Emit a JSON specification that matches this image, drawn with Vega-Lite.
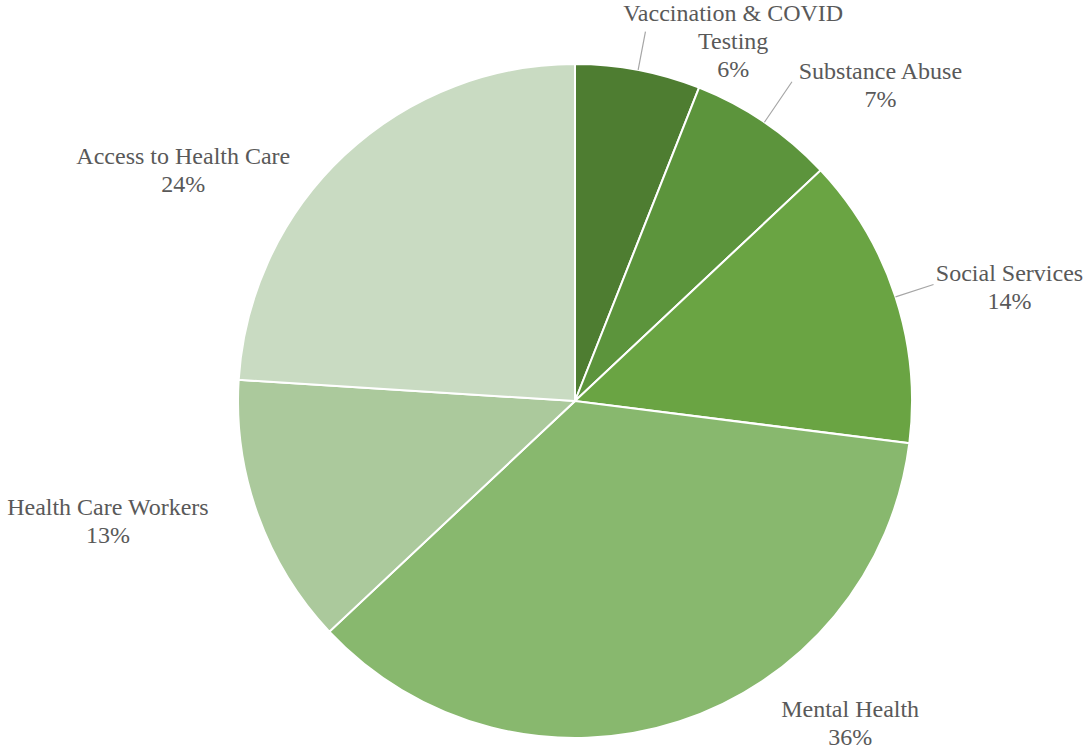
{
  "$schema": "https://vega.github.io/schema/vega-lite/v6.json",
  "autosize": {"type": "none"},
  "width": 1016,
  "height": 700,
  "padding": {"left": 67, "top": 51, "right": 0, "bottom": 0},
  "background": "white",
  "config": {"view": {"stroke": null}},
  "data": {
    "values": [
      {"idx": 1, "category": "Vaccination & COVID Testing", "value": 6, "label": "Vaccination & COVID\nTesting\n6%"},
      {"idx": 2, "category": "Substance Abuse", "value": 7, "label": "Substance Abuse\n7%"},
      {"idx": 3, "category": "Social Services", "value": 14, "label": "Social Services\n14%"},
      {"idx": 4, "category": "Mental Health", "value": 36, "label": "Mental Health\n36%"},
      {"idx": 5, "category": "Health Care Workers", "value": 13, "label": "Health Care Workers\n13%"},
      {"idx": 6, "category": "Access to Health Care", "value": 24, "label": "Access to Health Care\n24%"}
    ]
  },
  "encoding": {
    "theta": {"field": "value", "type": "quantitative", "stack": true},
    "order": {"field": "idx", "type": "quantitative"}
  },
  "layer": [
    {
      "mark": {"type": "arc", "outerRadius": 337, "stroke": "white", "strokeWidth": 2},
      "encoding": {
        "color": {
          "field": "category",
          "type": "nominal",
          "scale": {
            "domain": ["Vaccination & COVID Testing", "Substance Abuse", "Social Services", "Mental Health", "Health Care Workers", "Access to Health Care"],
            "range": ["#4e7d31", "#5c943c", "#6aa443", "#88b86e", "#abc99c", "#c9dbc2"]
          },
          "legend": null
        }
      }
    },
    {
      "mark": {"type": "arc", "outerRadius": 376, "innerRadius": 337, "padAngle": 3, "filled": false, "stroke": "#a6a6a6", "strokeWidth": 1.2},
      "encoding": {"strokeOpacity": {"condition": {"test": "datum.category === 'Vaccination & COVID Testing'", "value": 1}, "value": 0}}
    },
    {
      "mark": {"type": "arc", "outerRadius": 386, "innerRadius": 337, "padAngle": 3, "filled": false, "stroke": "#a6a6a6", "strokeWidth": 1.2},
      "encoding": {"strokeOpacity": {"condition": {"test": "datum.category === 'Substance Abuse'", "value": 1}, "value": 0}}
    },
    {
      "mark": {"type": "arc", "outerRadius": 377, "innerRadius": 337, "padAngle": 3, "filled": false, "stroke": "#a6a6a6", "strokeWidth": 1.2},
      "encoding": {"strokeOpacity": {"condition": {"test": "datum.category === 'Social Services'", "value": 1}, "value": 0}}
    },
    {
      "mark": {"type": "text", "radius": 337, "dx": 95, "dy": -56, "align": "center", "baseline": "middle", "lineBreak": "\n", "lineHeight": 28, "font": "Liberation Serif", "fontSize": 24, "fill": "#595959"},
      "encoding": {"text": {"condition": {"test": "datum.category === 'Vaccination & COVID Testing'", "field": "label", "type": "nominal"}, "value": ""}}
    },
    {
      "mark": {"type": "text", "radius": 337, "dx": 116, "dy": -50, "align": "center", "baseline": "middle", "lineBreak": "\n", "lineHeight": 28, "font": "Liberation Serif", "fontSize": 24, "fill": "#595959"},
      "encoding": {"text": {"condition": {"test": "datum.category === 'Substance Abuse'", "field": "label", "type": "nominal"}, "value": ""}}
    },
    {
      "mark": {"type": "text", "radius": 337, "dx": 114, "dy": -23, "align": "center", "baseline": "middle", "lineBreak": "\n", "lineHeight": 28, "font": "Liberation Serif", "fontSize": 24, "fill": "#595959"},
      "encoding": {"text": {"condition": {"test": "datum.category === 'Social Services'", "field": "label", "type": "nominal"}, "value": ""}}
    },
    {
      "mark": {"type": "text", "radius": 337, "dx": 171, "dy": -12, "align": "center", "baseline": "middle", "lineBreak": "\n", "lineHeight": 28, "font": "Liberation Serif", "fontSize": 24, "fill": "#595959"},
      "encoding": {"text": {"condition": {"test": "datum.category === 'Mental Health'", "field": "label", "type": "nominal"}, "value": ""}}
    },
    {
      "mark": {"type": "text", "radius": 337, "dx": -150, "dy": -7, "align": "center", "baseline": "middle", "lineBreak": "\n", "lineHeight": 28, "font": "Liberation Serif", "fontSize": 24, "fill": "#595959"},
      "encoding": {"text": {"condition": {"test": "datum.category === 'Health Care Workers'", "field": "label", "type": "nominal"}, "value": ""}}
    },
    {
      "mark": {"type": "text", "radius": 337, "dx": -161, "dy": 2, "align": "center", "baseline": "middle", "lineBreak": "\n", "lineHeight": 28, "font": "Liberation Serif", "fontSize": 24, "fill": "#595959"},
      "encoding": {"text": {"condition": {"test": "datum.category === 'Access to Health Care'", "field": "label", "type": "nominal"}, "value": ""}}
    }
  ]
}
